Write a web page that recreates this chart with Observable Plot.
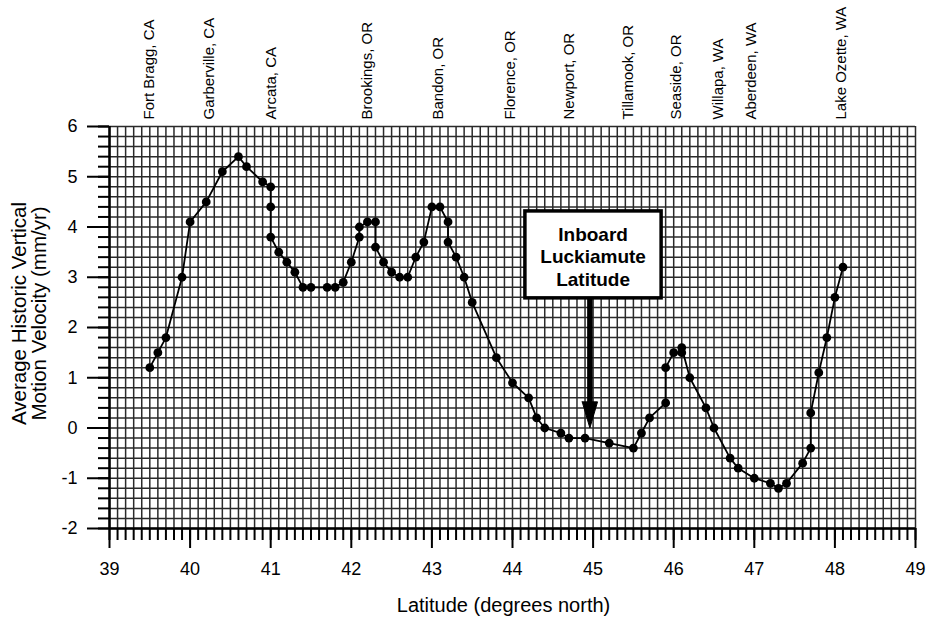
<!DOCTYPE html>
<html>
<head>
<meta charset="utf-8">
<script src="https://cdn.jsdelivr.net/npm/d3@7"></script>
<script src="https://cdn.jsdelivr.net/npm/@observablehq/plot@0.6"></script>
<style>
  html, body { margin: 0; padding: 0; background: #fff; }
  #chart svg { display: block; }
  #chart svg text { font-family: 'Liberation Sans', Arial, Helvetica, sans-serif; }
</style>
</head>
<body>
<div id="chart"></div>
<script>
// ---- data ----
const latitude = [39.5, 39.6, 39.7, 39.9, 40.0, 40.2, 40.4, 40.6, 40.7, 40.9, 41.0, 41.0, 41.0, 41.1, 41.2, 41.3, 41.4, 41.5, 41.7, 41.8, 41.9, 42.0, 42.1, 42.1, 42.2, 42.3, 42.3, 42.4, 42.5, 42.6, 42.7, 42.8, 42.9, 43.0, 43.1, 43.2, 43.2, 43.3, 43.4, 43.5, 43.8, 44.0, 44.2, 44.3, 44.4, 44.6, 44.7, 44.9, 45.2, 45.5, 45.6, 45.7, 45.9, 45.9, 46.0, 46.1, 46.1, 46.2, 46.4, 46.5, 46.7, 46.8, 47.0, 47.2, 47.3, 47.4, 47.6, 47.7, 47.7, 47.8, 47.9, 48.0, 48.1];
const velocity = [1.2, 1.5, 1.8, 3.0, 4.1, 4.5, 5.1, 5.4, 5.2, 4.9, 4.8, 4.4, 3.8, 3.5, 3.3, 3.1, 2.8, 2.8, 2.8, 2.8, 2.9, 3.3, 3.8, 4.0, 4.1, 4.1, 3.6, 3.3, 3.1, 3.0, 3.0, 3.4, 3.7, 4.4, 4.4, 4.1, 3.7, 3.4, 3.0, 2.5, 1.4, 0.9, 0.6, 0.2, 0.0, -0.1, -0.2, -0.2, -0.3, -0.4, -0.1, 0.2, 0.5, 1.2, 1.5, 1.5, 1.6, 1.0, 0.4, 0.0, -0.6, -0.8, -1.0, -1.1, -1.2, -1.1, -0.7, -0.4, 0.3, 1.1, 1.8, 2.6, 3.2];

const townNames = ["Fort Bragg, CA", "Garberville, CA", "Arcata, CA", "Brookings, OR", "Bandon, OR", "Florence, OR", "Newport, OR", "Tillamook, OR", "Seaside, OR", "Willapa, WA", "Aberdeen, WA", "Lake Ozette, WA"];
const townLatitude = [39.42, 40.17, 40.93, 42.13, 43.0, 43.9, 44.63, 45.36, 45.96, 46.48, 46.89, 48.0];

const xTicks = [39, 40, 41, 42, 43, 44, 45, 46, 47, 48, 49];
const yTicks = [-2, -1, 0, 1, 2, 3, 4, 5, 6];
const xMinor = d3.range(390, 491).map(d => d / 10);
const yMinor = d3.range(-10, 31).map(d => d / 5);

const xTitle = "Latitude (degrees north)";
const yTitle = "Average Historic Vertical\nMotion Velocity (mm/yr)";

// annotation: box, label and arrow
const noteText = "Inboard\nLuckiamute\nLatitude";
const noteBox = [{x1: 44.16, x2: 45.85, y1: 4.31, y2: 2.58}];
const noteCenter = [{x: 45.0, y: 3.42}];
const arrowLat = 44.96;
const arrowShaft = [{x: arrowLat, y1: 2.58, y2: 0.45}];
const arrowHead = [
  {x: arrowLat - 0.095, y: 0.52},
  {x: arrowLat + 0.095, y: 0.52},
  {x: arrowLat, y: 0.0},
  {x: arrowLat - 0.095, y: 0.52}
];

const points = latitude.map((x, i) => ({x, y: velocity[i]}));
const towns = townNames.map((name, i) => ({name, x: townLatitude[i]}));
const font = "'Liberation Sans', Arial, Helvetica, sans-serif";

const chart = Plot.plot({
  width: 928,
  height: 620,
  marginLeft: 109,
  marginRight: 13,
  marginTop: 126,
  marginBottom: 92,
  style: {fontFamily: font, background: "#fff", color: "#000", overflow: "visible"},
  x: {domain: [39, 49]},
  y: {domain: [-2, 6]},
  marks: [
    // dense grid
    Plot.gridX(xMinor, {stroke: "#2a2a2a", strokeOpacity: 1, strokeWidth: 1.5}),
    Plot.gridY(yMinor, {stroke: "#2a2a2a", strokeOpacity: 1, strokeWidth: 1.5}),
    // minor ticks
    Plot.axisX(xMinor, {tickSize: 12, text: null, strokeWidth: 2, stroke: "#000"}),
    Plot.axisY(yMinor, {tickSize: 11, text: null, strokeWidth: 2, stroke: "#000"}),
    // major ticks and labels
    Plot.axisX(xTicks, {tickSize: 20, tickPadding: 14, strokeWidth: 2, stroke: "#000", fontSize: 18, fontFamily: font, tickFormat: d => String(d), label: null}),
    Plot.axisY(yTicks, {tickSize: 22, tickPadding: 10, strokeWidth: 2, stroke: "#000", fontSize: 18, fontFamily: font, tickFormat: d => String(d), label: null}),
    // axis lines
    Plot.ruleX([39], {stroke: "#000", strokeWidth: 2.5}),
    Plot.ruleY([-2], {stroke: "#000", strokeWidth: 2.5}),
    // axis titles
    Plot.text([xTitle], {frameAnchor: "bottom", lineAnchor: "middle", textAnchor: "middle", dy: 77, dx: -9, fontSize: 20, fontFamily: font, fill: "#000"}),
    Plot.text([yTitle], {frameAnchor: "left", textAnchor: "middle", lineAnchor: "middle", dx: -80, dy: -14, rotate: -90, fontSize: 20.5, fontFamily: font, lineHeight: 1.0, fill: "#000"}),
    // town labels along the top
    Plot.text(towns, {x: "x", text: "name", frameAnchor: "top", dy: -7, rotate: -90, textAnchor: "start", fontSize: 15, fontFamily: font, fill: "#000"}),
    // data series
    Plot.line(points, {x: "x", y: "y", stroke: "#000", strokeWidth: 1.8}),
    Plot.dot(points, {x: "x", y: "y", r: 4.4, fill: "#000", stroke: "none"}),
    // annotation
    Plot.rect(noteBox, {x1: "x1", x2: "x2", y1: "y1", y2: "y2", fill: "#fff", stroke: "#000", strokeWidth: 3.5}),
    Plot.text(noteCenter, {x: "x", y: "y", text: () => noteText, fontSize: 19, fontWeight: "bold", fontFamily: font, lineHeight: 1.2, fill: "#000"}),
    Plot.ruleX(arrowShaft, {x: "x", y1: "y1", y2: "y2", stroke: "#000", strokeWidth: 5.5}),
    Plot.line(arrowHead, {x: "x", y: "y", fill: "#000", stroke: "#000", strokeWidth: 1})
  ]
});

document.getElementById("chart").appendChild(chart);
</script>
</body>
</html>
